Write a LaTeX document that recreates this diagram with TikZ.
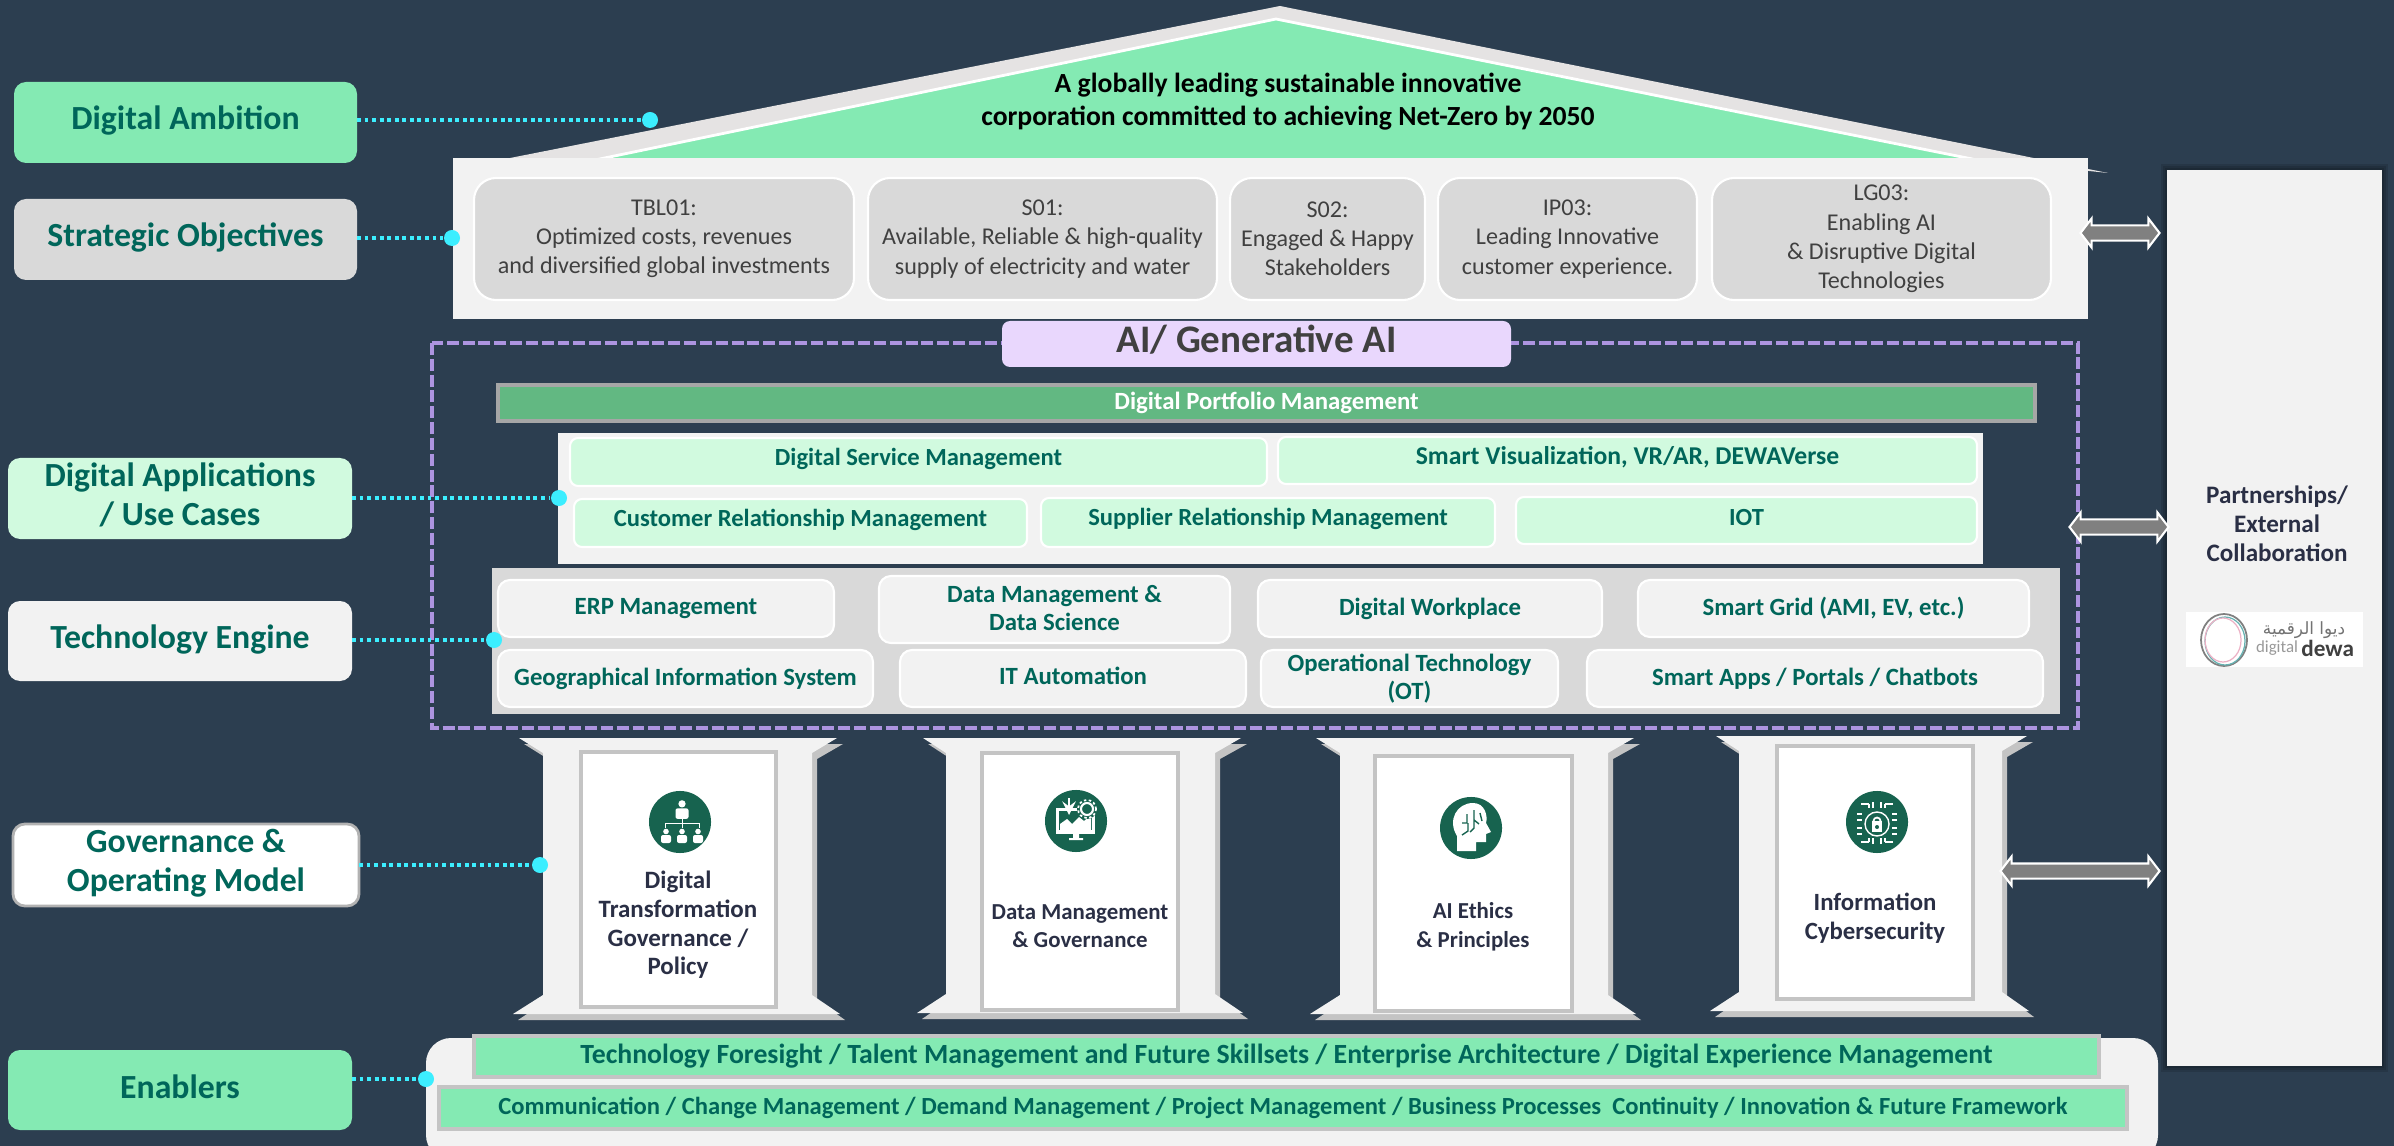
\documentclass[tikz,border=0pt]{standalone}
\usepackage{fontspec}
\setmainfont{Carlito}
\newfontfamily\arabicfont[Script=Arabic]{DejaVu Sans}
\TeXXeTstate=1
\usetikzlibrary{shapes.arrows}
\definecolor{pagebg}{HTML}{2C3E50}
\definecolor{mint}{HTML}{84EAB3}
\definecolor{palemint}{HTML}{D1FADF}
\definecolor{deepgreen}{HTML}{00665A}
\definecolor{barfill}{HTML}{62B882}
\definecolor{iconfill}{HTML}{17634F}
\definecolor{lilac}{HTML}{E9D7FD}
\definecolor{lilacline}{HTML}{AD94E0}
\definecolor{spotcyan}{HTML}{3CEEFF}
\definecolor{panelgrey}{HTML}{F2F2F2}
\definecolor{midgrey}{HTML}{D9D9D9}
\definecolor{edgegrey}{HTML}{C4C4C4}
\definecolor{roofgrey}{HTML}{E5E3E3}
\definecolor{inktext}{HTML}{2A2F45}
\tikzset{
	px/.style={x=0.01cm,y=-0.01cm},
	span/.style args={#1/#2/#3/#4}{at={({(#1+#3)/2},{(#2+#4)/2})},minimum width={(#3-#1)*0.01cm},minimum height={(#4-#2)*0.01cm}},
	box/.style={inner sep=0pt,outer sep=0pt,align=center},
	tagbox/.style={box,rounded corners=0.12cm,text=deepgreen,text depth=2.6pt,font=\bfseries\fontsize{9.6}{11.1}\selectfont},
	panel/.style={box,fill=panelgrey},
	goalbox/.style={box,fill=midgrey,draw=white,line width=0.6pt,rounded corners=0.22cm,text=black!75,font=\fontsize{6.85}{8.3}\selectfont},
	appbox/.style={box,fill=palemint,draw=white,line width=0.6pt,rounded corners=0.08cm,text=deepgreen,text depth=3pt,font=\bfseries\fontsize{7}{8.3}\selectfont},
	techbox/.style={box,fill=panelgrey,draw=white,line width=0.6pt,rounded corners=0.12cm,text=deepgreen,font=\bfseries\fontsize{7.05}{8.1}\selectfont},
	card/.style={box,fill=white,draw=edgegrey,line width=0.9pt},
	cardtext/.style={box,text=inktext,font=\bfseries\fontsize{#1}{8.15}\selectfont},
	enablebar/.style={box,fill=mint,draw=edgegrey,line width=0.9pt,text=deepgreen,font=\bfseries\fontsize{7.9}{9}\selectfont},
	iconbg/.style={circle,fill=iconfill,minimum size=0.62cm,inner sep=0pt},
	spot/.style={circle,fill=spotcyan,minimum size=0.16cm,inner sep=0pt},
	link/.style={spotcyan,line width=1.1pt,dash pattern=on 1.1pt off 1.05pt},
	blockarrow/.style={double arrow,fill=gray,draw=white,line width=0.6pt,inner xsep=0pt,inner ysep=0.065cm,double arrow head extend=0.07cm,double arrow tip angle=105,double arrow head indent=0pt}
}
\newcommand{\personmark}[3]{% x, y, size of a small white figure
	\fill[white] (#1,#2-#3*0.55) circle[radius=#3*0.28*0.01cm];
	\fill[white,rounded corners=0.02cm] (#1-#3*0.5,#2+#3*0.6) rectangle (#1+#3*0.5,#2-#3*0.2);
}
\begin{document}
\begin{tikzpicture}[px,>=stealth]
	\useasboundingbox (0,0) rectangle (2394,1146);
	\fill[pagebg] (0,0) rectangle (2394,1146);

	% Draw the roof
	\fill[roofgrey] (505,159) -- (1280,6) -- (2108,173) -- (2070,169) -- (2070,159) -- cycle;
	\filldraw[fill=mint,draw=white,line width=0.8pt] (595,160) -- (1276,19) -- (1977,160) -- cycle;

	% Draw the dashed frame
	\draw[lilacline,line width=1.1pt,dash pattern=on 3.4pt off 1.1pt] (432,343) rectangle (2078,728);

	% Draw the objectives row
	\node[panel,span=453/158/2088/319] (objectives) {};
	\node[box,font=\bfseries\fontsize{7.87}{9.4}\selectfont] (ambitiontext) at (1288,102) {A globally leading sustainable innovative\\corporation committed to achieving Net-Zero by 2050};
	\node[goalbox,span=474/178/854/300] (tbl) {TBL01:\\Optimized costs, revenues\\and diversified global investments};
	\node[goalbox,span=868/178/1217/300] (sone) {S01:\\Available, Reliable \& high-quality\\supply of electricity and water};
	\node[goalbox,span=1230/178/1425/300] (stwo) {S02:\\Engaged \& Happy\\Stakeholders};
	\node[goalbox,span=1438/178/1697/300] (ip) {IP03:\\Leading Innovative\\customer experience.};
	\node[goalbox,span=1712/178/2051/300] (lg) {LG03:\\Enabling AI\\\& Disruptive Digital\\Technologies};

	% Draw the AI banner and the portfolio bar
	\node[box,fill=lilac,rounded corners=0.08cm,text=black!75,text depth=3pt,font=\bfseries\fontsize{11.1}{12}\selectfont,span=1002/321/1511/367] (genai) {AI/ Generative AI};
	\node[box,fill=barfill,draw=black!35,line width=0.9pt,text=white,font=\bfseries\fontsize{7.05}{8.3}\selectfont,span=498/385/2035/421] (portfolio) {Digital Portfolio Management};

	% Draw the applications block
	\node[panel,span=558/433/1983/564] (apps) {};
	\node[appbox,span=570/438/1267/486] (service) {Digital Service Management};
	\node[appbox,font=\bfseries\fontsize{7.3}{8.3}\selectfont,span=1278/437/1977/484] (visual) {Smart Visualization, VR/AR, DEWAVerse};
	\node[appbox,span=574/499/1027/547] (customer) {Customer Relationship Management};
	\node[appbox,span=1041/498/1495/547] (supplier) {Supplier Relationship Management};
	\node[appbox,text depth=1.8pt,span=1516/497/1977/544] (iot) {IOT};

	% Draw the technology block
	\node[box,fill=midgrey,span=492/568/2060/714] (engine) {};
	\node[techbox,span=498/580/834/637] (erp) {ERP Management};
	\node[techbox,text depth=0.8pt,span=879/576/1230/643] (datasci) {Data Management \&\\Data Science};
	\node[techbox,span=1258/580/1602/637] (workplace) {Digital Workplace};
	\node[techbox,span=1638/580/2029/637] (grid) {Smart Grid (AMI, EV, etc.)};
	\node[techbox,span=498/650/873/707] (gis) {Geographical Information System};
	\node[techbox,text depth=1.7pt,span=900/650/1246/707] (itauto) {IT Automation};
	\node[techbox,span=1261/650/1558/707] (optech) {Operational Technology\\(OT)};
	\node[techbox,span=1587/650/2043/707] (smartapps) {Smart Apps / Portals / Chatbots};

	% Draw the pillars
	\foreach \tl/\tr/\sl/\sr/\bl/\br/\ty/\by in {519/837/543/812/513/840/738/1014,923/1241/946/1215/917/1243/738/1013,1316/1634/1340/1608/1310/1636/738/1014,1716/2027/1739/2002/1710/2029/736/1011}{
		\fill[edgegrey] (\tl+5,\ty+6) -- (\tr+6,\ty+6) -- (\sr+5,\ty+21) -- (\sr+5,\by-14) -- (\br+5,\by+6) -- (\bl+5,\by+6) -- (\sl+5,\by-14) -- (\sl+5,\ty+21) -- cycle;
		\fill[panelgrey] (\tl,\ty) -- (\tr,\ty) -- (\sr,\ty+15) -- (\sr,\by-19) -- (\br,\by) -- (\bl,\by) -- (\sl,\by-19) -- (\sl,\ty+15) -- cycle;
	}
	\node[card,span=581/752/776/1007] (govcard) {};
	\node[card,span=982/753/1178/1010] (datacard) {};
	\node[card,span=1375/756/1572/1011] (ethicscard) {};
	\node[card,span=1777/746/1973/999] (cybercard) {};
	\node[cardtext=7.1] (govtext) at (678,925) {Digital\\Transformation\\Governance /\\Policy};
	\node[cardtext=6.5] (datatext) at (1080,926) {Data Management\\\& Governance};
	\node[cardtext=6.5] (ethicstext) at (1473,927) {AI Ethics\\\& Principles};
	\node[cardtext=7.05] (cybertext) at (1875,918) {Information\\Cybersecurity};

	% Draw the icons
	\node[iconbg] (govicon) at (680,822) {};
	\node[iconbg] (dataicon) at (1076,821) {};
	\node[iconbg] (ethicsicon) at (1471,828) {};
	\node[iconbg] (cybericon) at (1877,822) {};
	\begin{scope}[shift={(680,822)}]
		\personmark{2}{-11}{13}
		\personmark{-14}{15}{10}
		\personmark{2}{15}{10}
		\personmark{18}{15}{10}
		\draw[white,line width=0.25pt] (2,-6) -- (2,6) (-15,6) -- (-15,1) -- (19,1) -- (19,6);
	\end{scope}
	\begin{scope}[shift={(1076,821)}]
		\fill[white] (-20,-13) rectangle (19,13);
		\fill[iconfill] (-17,-10) rectangle (16,9);
		\fill[white] (-16,9) -- (-16,3) -- (-9,-2) -- (-4,3) -- (3,-4) -- (8,0) -- (15,-6) -- (15,9) -- cycle;
		\fill[white] (-3,13) rectangle (3,17) (-7,17) rectangle (7,19);
		\fill[iconfill] (11,-12) circle[radius=0.1cm];
		\draw[white,line width=0.6pt] (11,-12) circle[radius=0.06cm];
		\draw[white,line width=0.5pt,dash pattern=on 0.7pt off 0.7pt] (11,-12) circle[radius=0.09cm];
		\draw[white,line width=0.7pt,->] (-7,-23) -- (-7,-6);
	\end{scope}
	\begin{scope}[shift={(1471,828)}]
		\fill[white] (-14,23) -- (-14,8) .. controls (-24,-8) and (-14,-25) .. (2,-25) .. controls (14,-25) and (17,-12) .. (15,-5) -- (20,4) -- (15,6) -- (15,14) -- (5,14) -- (5,23) -- cycle;
		\draw[iconfill,line width=0.4pt] (-9,-5) -- (-4,-5) -- (-4,-14) (-9,7) -- (-3,3) -- (-3,-5) (3,-18) -- (3,0) -- (-1,4) (9,-15) -- (11,-7) (3,-8) -- (8,-4);
	\end{scope}
	\begin{scope}[shift={(1877,822)}]
		\draw[white,line width=0.4pt] (0,2) circle[radius=0.12cm];
		\draw[white,line width=0.5pt] (0,-1) circle[radius=0.035cm];
		\fill[white] (-5,-1) rectangle (5,10);
		\fill[iconfill] (0,5) circle[radius=0.02cm];
		\foreach \rx in {1,-1}{
			\draw[white,line width=0.4pt] (\rx*4,-20) -- (\rx*4,-14) (\rx*8,-18) -- (\rx*16,-18) (\rx*8,-18) -- (\rx*8,-14) (\rx*20,-8) -- (\rx*15,-8) (\rx*20,-2) -- (\rx*15,-2) (\rx*20,6) -- (\rx*15,6) (\rx*20,12) -- (\rx*15,12) (\rx*8,20) -- (\rx*16,20) (\rx*8,20) -- (\rx*8,16) (\rx*4,22) -- (\rx*4,16);
		}
	\end{scope}

	% Draw the enablers
	\node[panel,rounded corners=0.25cm,span=426/1038/2158/1160] (enablepanel) {};
	\node[enablebar,span=474/1036/2099/1077] (foresight) {Technology Foresight / Talent Management and Future Skillsets / Enterprise Architecture / Digital Experience Management};
	\node[enablebar,font=\bfseries\fontsize{7}{9}\selectfont,span=439/1087/2127/1129] (communication) {Communication / Change Management / Demand Management / Project Management / Business Processes\ \ Continuity / Innovation \& Future Framework};

	% Draw the partnership panel
	\foreach \s in {2,4,6}
		\fill[black,opacity=0.12] (2167-\s,170-\s) rectangle (2382+\s,1066+\s);
	\node[panel,span=2167/170/2382/1066] (partners) {};
	\node[box,text=inktext,font=\bfseries\fontsize{7.15}{8.2}\selectfont] (partnertext) at (2277,524) {Partnerships/\\External\\Collaboration};
	\node[box,fill=white,span=2186/612/2363/667] (logo) {};
	\draw[gray,line width=0.5pt] (2224,640) circle[x radius=23,y radius=26];
	\draw[teal!60,line width=0.35pt] (2225,641) circle[x radius=20,y radius=24];
	\draw[purple!30,line width=0.35pt] (2223,640) circle[x radius=18,y radius=22];
	\node[inner sep=0pt,font=\fontsize{4.8}{5}\selectfont,text=black!40] (logotext) at (2277,648) {digital};
	\node[inner sep=0pt,font=\bfseries\fontsize{6.6}{7}\selectfont,text=black!75,anchor=west,xshift=0.02cm] (logodewa) at (logotext.east) {dewa};
	\node[inner sep=0pt,font=\arabicfont\fontsize{4.8}{5}\selectfont,text=black!55] (logoarabic) at (2304,630) {\beginR ديوا الرقمية\endR};

	% Draw the block arrows
	\node[blockarrow,minimum height=0.79cm] (arrowtop) at (2120,233) {};
	\node[blockarrow,minimum height=0.99cm] (arrowmid) at (2119,527) {};
	\node[blockarrow,minimum height=1.59cm] (arrowlow) at (2080,871) {};

	% Draw the left labels
	\node[tagbox,fill=mint,span=14/82/357/163] (ambition) {Digital Ambition};
	\node[tagbox,fill=midgrey,span=14/199/357/280] (strategic) {Strategic Objectives};
	\node[tagbox,fill=palemint,span=8/458/352/539] (usecases) {Digital Applications\\/ Use Cases};
	\node[tagbox,fill=panelgrey,span=8/601/352/681] (technology) {Technology Engine};
	\node[tagbox,fill=white,draw=black!30,line width=0.8pt,span=13/824/359/906] (governance) {Governance \&\\Operating Model};
	\node[tagbox,fill=mint,text depth=1.7pt,span=8/1050/352/1130] (enablers) {Enablers};

	% Draw the dotted links
	\node[spot] (ambitionspot) at (650,120) {};
	\node[spot] (strategicspot) at (452,238) {};
	\node[spot] (usecasespot) at (559,498) {};
	\node[spot] (technologyspot) at (494,640) {};
	\node[spot] (governancespot) at (540,865) {};
	\node[spot] (enablerspot) at (426,1079) {};
	\foreach \tagname/\spotname in {ambition/ambitionspot,strategic/strategicspot,usecases/usecasespot,technology/technologyspot,governance/governancespot,enablers/enablerspot}
		\draw[link] (\tagname.east |- \spotname) -- (\spotname);
\end{tikzpicture}
\end{document}
